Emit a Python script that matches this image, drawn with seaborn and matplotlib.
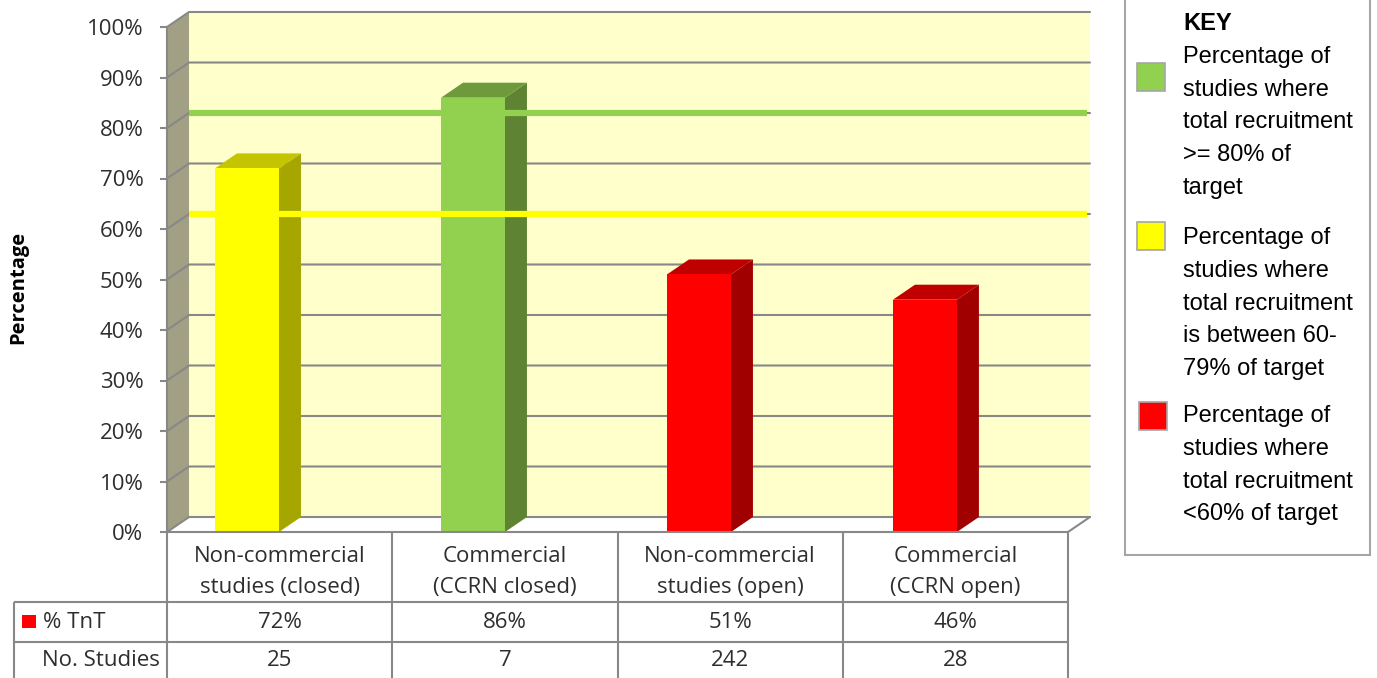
import matplotlib
matplotlib.use("Agg")
import matplotlib.pyplot as plt
import matplotlib.transforms as mtransforms
from matplotlib.patches import Polygon, Rectangle
from matplotlib.lines import Line2D
import seaborn as sns
import pandas as pd

# ---- data ----
categories = ["Non-commercial\nstudies (closed)", "Commercial\n(CCRN closed)",
              "Non-commercial\nstudies (open)", "Commercial\n(CCRN open)"]
pct_tnt = [72, 86, 51, 46]
n_studies = [25, 7, 242, 28]
target_lines = [80, 60]
yticks = [0, 10, 20, 30, 40, 50, 60, 70, 80, 90, 100]
row_labels = ["% TnT", "No. Studies"]
key_title = "KEY"
key_labels = [
    "Percentage of\nstudies where\ntotal recruitment\n>= 80% of\ntarget",
    "Percentage of\nstudies where\ntotal recruitment\nis between 60-\n79% of target",
    "Percentage of\nstudies where\ntotal recruitment\n<60% of target",
]

# colour bands: (front, top, side)
SHADES = {
    "green": ("#92d050", "#6f9a3c", "#5e8433"),
    "yellow": ("#ffff00", "#c4c400", "#a6a600"),
    "red": ("#ff0000", "#c00000", "#a00000"),
}


def band(v):
    if v >= 80:
        return "green"
    if v >= 60:
        return "yellow"
    return "red"


W, H = 1377, 678
sns.set_theme(style="white")
plt.rcParams["font.family"] = ["Open Sans", "DejaVu Sans"]
TXT = "#2e2e2e"
GRID = "#888888"
FS = 16

fig = plt.figure(figsize=(W / 100, H / 100), dpi=100, facecolor="white")

# plot area (front plane of the 3-D box)
XL, XR = -0.354, 3.633
ax = fig.add_axes([167 / W, (H - 532) / H, (1068 - 167) / W, (532 - 27) / H])
ax.set_facecolor("none")

df = pd.DataFrame({"category": categories, "pct": pct_tnt})
fronts = [SHADES[band(v)][0] for v in pct_tnt]
sns.barplot(data=df, x="category", y="pct", hue="category", palette=fronts,
            width=0.283, saturation=1, legend=False, ax=ax, zorder=2,
            linewidth=0, edgecolor="none")
ax.set_xlim(XL, XR)
ax.set_ylim(0, 100)
ax.set_xlabel("")
ax.set_ylabel("")
ax.set_xticks([])

# depth of the 3-D box in data units
DX = 22 / 226
DY = 15 / 505 * 100

# back wall, floor and left wall
ax.add_patch(Polygon([(XL + DX, DY), (XR + DX, DY), (XR + DX, 100 + DY), (XL + DX, 100 + DY)],
                     closed=True, facecolor="#ffffcc", edgecolor="none", zorder=0.2, clip_on=False))
ax.add_patch(Polygon([(XL, 0), (XR, 0), (XR + DX, DY), (XL + DX, DY)],
                     closed=True, facecolor="white", edgecolor="none", zorder=0.3, clip_on=False))
ax.add_patch(Polygon([(XL, 0), (XL, 100), (XL + DX, 100 + DY), (XL + DX, DY)],
                     closed=True, facecolor="#a1a085", edgecolor="none", zorder=0.4, clip_on=False))

# gridlines wrapping the left wall and back wall
for t in yticks:
    ax.add_line(Line2D([XL, XL + DX, XR + DX], [t, t + DY, t + DY], color=GRID, lw=1.5,
                       zorder=0.6, clip_on=False, solid_joinstyle="miter"))
ax.add_line(Line2D([XR, XR + DX], [0, DY], color=GRID, lw=1.5, zorder=0.6, clip_on=False))

# 3-D sides and tops of the bars
for p, v in zip(ax.patches[: len(pct_tnt)], pct_tnt):
    x0, w, h = p.get_x(), p.get_width(), p.get_height()
    x1 = x0 + w
    _, top, side = SHADES[band(v)]
    ax.add_patch(Polygon([(x1, 0), (x1, h), (x1 + DX, h + DY), (x1 + DX, DY)], closed=True,
                         facecolor=side, edgecolor="none", zorder=1.5, clip_on=False))
    ax.add_patch(Polygon([(x0, h), (x0 + DX, h + DY), (x1 + DX, h + DY), (x1, h)], closed=True,
                         facecolor=top, edgecolor="none", zorder=1.5, clip_on=False))

# target lines on the back wall
for t in target_lines:
    ax.add_line(Line2D([XL + DX, XR + DX - 0.013], [t + DY, t + DY], color=SHADES[band(t)][0],
                       lw=4.5, zorder=3, clip_on=False, solid_capstyle="butt"))

# y axis
for s in ["top", "right", "bottom"]:
    ax.spines[s].set_visible(False)
ax.spines["left"].set_color(GRID)
ax.spines["left"].set_linewidth(1.5)
ax.spines["left"].set_zorder(0.7)
ax.set_yticks(yticks)
ax.set_yticklabels([f"{t}%" for t in yticks])
ax.tick_params(axis="y", left=True, length=5, width=1.5, color=GRID, pad=12,
               labelsize=FS, labelcolor=TXT)

# overlay in pixel coordinates for table, title and key
ov = fig.add_axes([0, 0, 1, 1], zorder=5)
ov.set_xlim(0, W)
ov.set_ylim(H, 0)
ov.axis("off")

ov.text(18, 287, "Percentage", rotation=90, ha="center", va="center", fontsize=14.5,
        fontweight="bold", color="black")

# data table below the plot
bt = mtransforms.blended_transform_factory(ax.transAxes, ov.transData)
ncol = len(categories)
tl = dict(color=GRID, lw=1.5, solid_capstyle="butt")
ov.add_line(Line2D([0, 1], [532, 532], transform=bt, **tl))
for yy in (602, 642):
    ov.add_line(Line2D([14, 167], [yy, yy], **tl))
    ov.add_line(Line2D([0, 1], [yy, yy], transform=bt, **tl))
ov.add_line(Line2D([14, 14], [602, 690], **tl))
for k in range(ncol + 1):
    ov.add_line(Line2D([k / ncol, k / ncol], [532, 690], transform=bt, **tl))

for k, (lab, v, n) in enumerate(zip(categories, pct_tnt, n_studies)):
    cx = (k + 0.5) / ncol
    for j, line in enumerate(lab.split("\n")):
        ov.text(cx, 557 + 30 * j, line, transform=bt, ha="center", va="center",
                fontsize=FS, color=TXT)
    ov.text(cx, 622, f"{v}%", transform=bt, ha="center", va="center", fontsize=FS, color=TXT)
    ov.text(cx, 660, f"{n}", transform=bt, ha="center", va="center", fontsize=FS, color=TXT)

ov.add_patch(Rectangle((22, 615), 14, 13, facecolor=SHADES["red"][0], edgecolor="none"))
ov.text(43, 622, row_labels[0], ha="left", va="center", fontsize=FS, color=TXT)
ov.text(42, 660, row_labels[1], ha="left", va="center", fontsize=FS, color=TXT)

# key box
ov.add_patch(Rectangle((1125, -5), 245, 560, facecolor="white", edgecolor="#a6a6a6", lw=1.5))
kf = dict(family=["Liberation Sans", "DejaVu Sans"], fontsize=17, color="black",
          ha="left", va="center")
ov.text(1183, 24, key_title, fontweight="bold", **kf)
key_colors = ["green", "yellow", "red"]
key_starts = [57, 238, 416]
swatch_y = [63, 222, 402]
swatch_x = [1137, 1137, 1139]
for lab, c, y0, sy, sx in zip(key_labels, key_colors, key_starts, swatch_y, swatch_x):
    ov.add_patch(Rectangle((sx, sy), 28, 28, facecolor=SHADES[c][0], edgecolor="#a6a6a6", lw=1.2))
    for j, line in enumerate(lab.split("\n")):
        ov.text(1183, y0 + 32.75 * j, line, **kf)

fig.savefig("out.png", dpi=100, facecolor="white")
